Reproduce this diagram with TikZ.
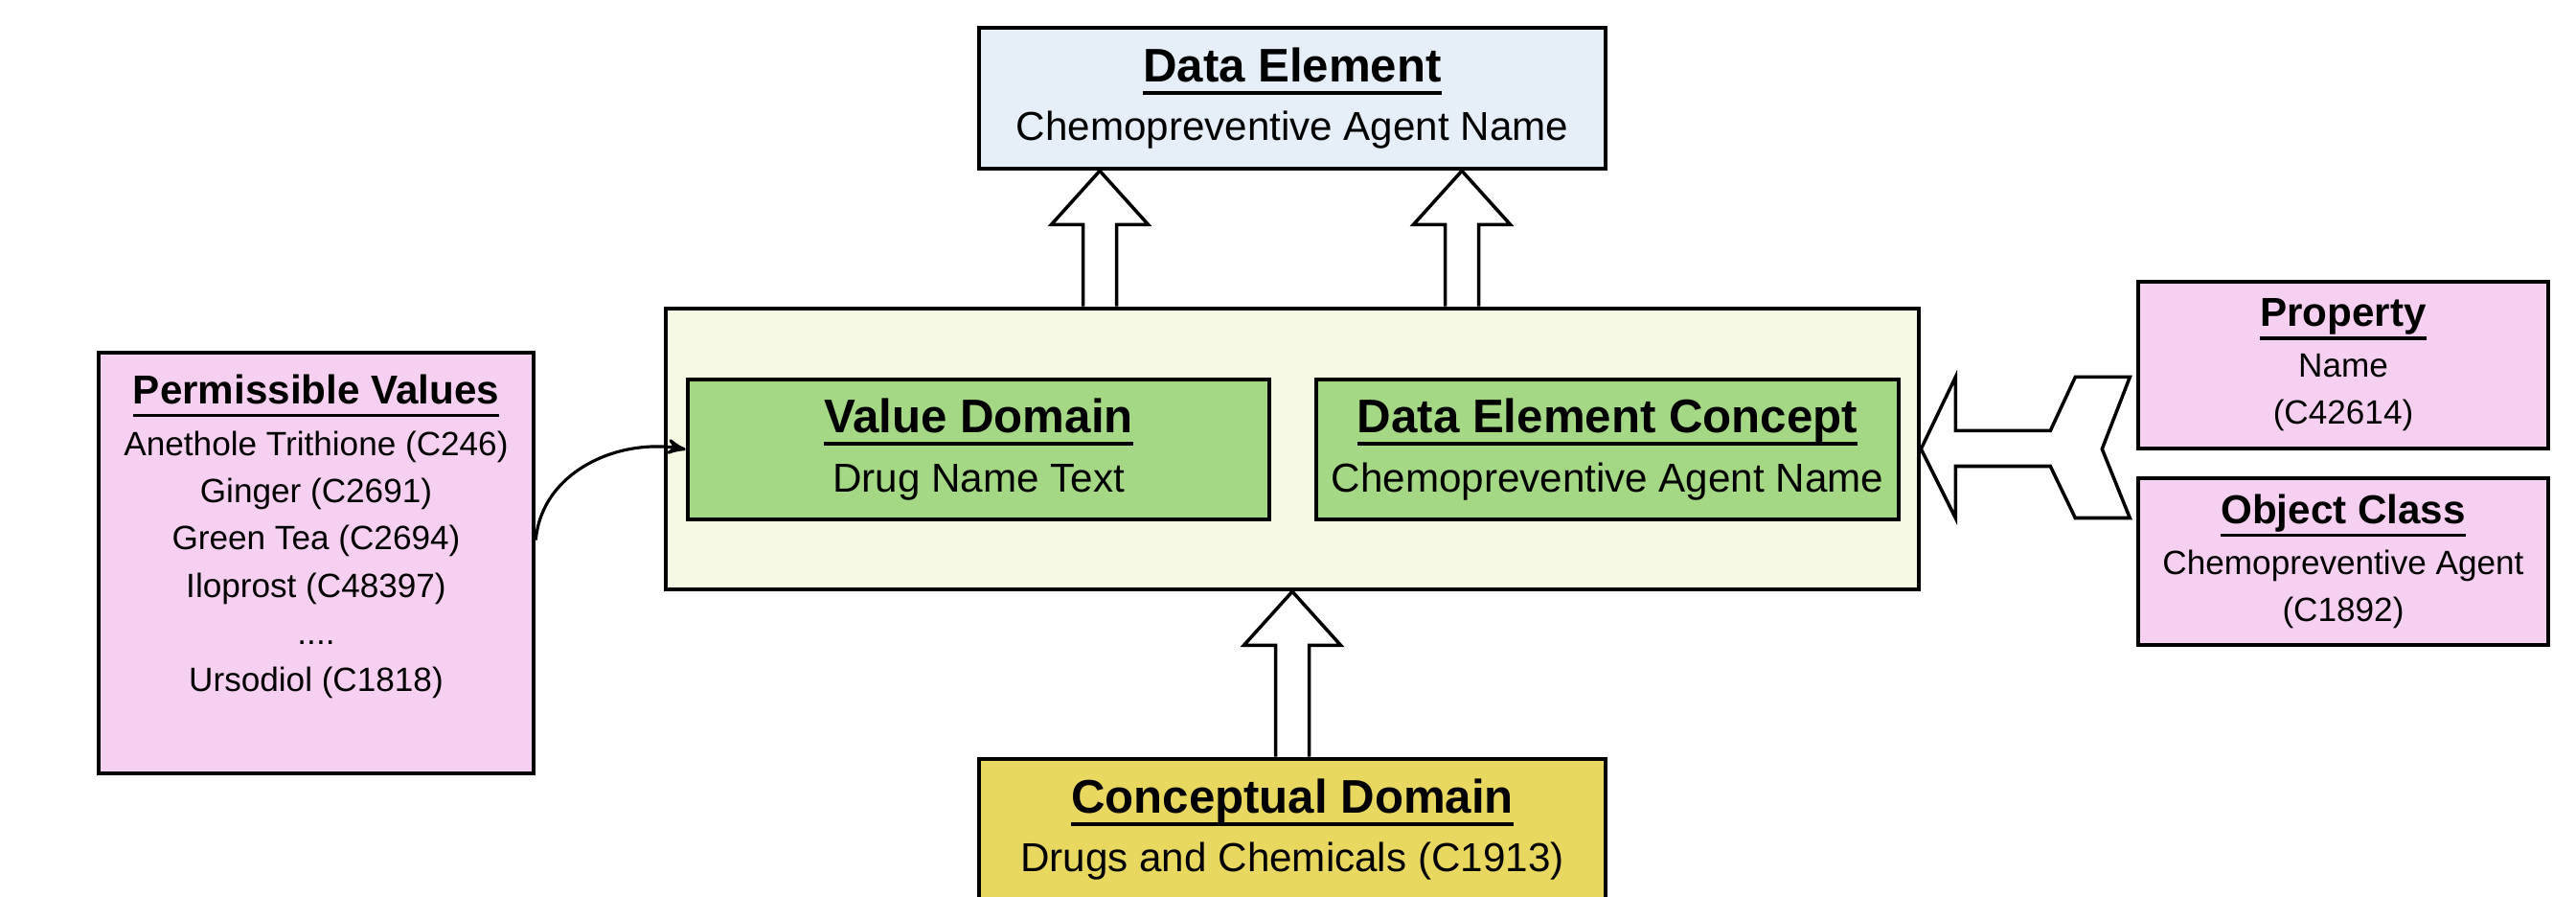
\documentclass[tikz,border=0pt]{standalone}
\usepackage{fontspec}
\setmainfont{Liberation Sans}
\usetikzlibrary{arrows,calc}

\definecolor{deblue}{RGB}{230,238,248}
\definecolor{wrapyellow}{RGB}{246,250,228}
\definecolor{vdgreen}{RGB}{165,216,133}
\definecolor{termpink}{RGB}{246,208,240}
\definecolor{cdyellow}{RGB}{232,216,96}

% bold title with a heavy underline
\newcommand{\TitleLine}[1]{\setbox0\hbox{\bfseries #1}\rlap{\rule[-3.9pt]{\wd0}{1.1pt}}\box0}
\newcommand{\BigTitle}[1]{{\fontsize{14}{17.6}\selectfont\TitleLine{#1}}}
\newcommand{\SmallTitle}[1]{{\fontsize{12}{14}\selectfont\TitleLine{#1}}}

% hollow up arrow: #1 tail, #2 tip
\newcommand{\UpArrow}[2]{%
	\draw[BlockArrow] ($(#1)+(-0.175,0)$) -- ($(#2)+(-0.175,-0.56)$) -- ($(#2)+(-0.505,-0.56)$)
		-- (#2) -- ($(#2)+(0.505,-0.56)$) -- ($(#2)+(0.175,-0.56)$) -- ($(#1)+(0.175,0)$);}

\begin{document}
\begin{tikzpicture}[
	MainBox/.style = {draw=black, line width=1.3pt, align=center, inner sep=0pt,
		font=\fontsize{12}{17.6}\selectfont},
	TermBox/.style = {draw=black, line width=1.3pt, align=center, inner sep=0pt,
		fill=termpink, minimum width=4.28cm, minimum height=1.74cm,
		font=\fontsize{10}{14}\selectfont},
	BlockArrow/.style = {draw=black, line width=1pt, fill=white, line join=miter},
	CurveArrow/.style = {draw=black, line width=0.9pt, ->, >=stealth'}]
	\useasboundingbox (0,0) rectangle (26.89,-9.36);

	\node[MainBox, fill=deblue, minimum width=6.54cm, minimum height=1.47cm] (de) at (13.49,-1.025)
		{\BigTitle{Data Element}\\ Chemopreventive Agent Name};
	\node[MainBox, fill=wrapyellow, minimum width=13.08cm, minimum height=2.93cm] (wrap) at (13.49,-4.685) {};
	\node[MainBox, fill=vdgreen, minimum width=6.07cm, minimum height=1.46cm] (vd) at (10.215,-4.69)
		{\BigTitle{Value Domain}\\ Drug Name Text};
	\node[MainBox, fill=vdgreen, minimum width=6.08cm, minimum height=1.46cm] (dec) at (16.78,-4.69)
		{\BigTitle{Data Element Concept}\\ Chemopreventive Agent Name};
	\node[MainBox, fill=cdyellow, minimum width=6.54cm, minimum height=1.47cm] (cd) at (13.49,-8.655)
		{\BigTitle{Conceptual Domain}\\ Drugs and Chemicals (C1913)};

	\node[TermBox, minimum width=4.54cm, minimum height=4.39cm] (pv) at (3.30,-5.875)
		{\SmallTitle{Permissible Values}\\[1.3pt] Anethole Trithione (C246)\\ Ginger (C2691)\\
		Green Tea (C2694)\\ Iloprost (C48397)\\ ....\\ Ursodiol (C1818)\\[0.13cm]\mbox{}};
	\node[TermBox] (prop) at (24.46,-3.81) {\SmallTitle{Property}\\[1pt] Name\\ (C42614)};
	\node[TermBox] (oc) at (24.46,-5.86) {\SmallTitle{Object Class}\\[1pt] Chemopreventive Agent\\ (C1892)};

	\coordinate (ax1) at (11.48,0);
	\coordinate (ax2) at (15.26,0);
	\coordinate (ax3) at (13.49,0);
	\UpArrow{ax1 |- wrap.north}{ax1 |- de.south}
	\UpArrow{ax2 |- wrap.north}{ax2 |- de.south}
	\UpArrow{ax3 |- cd.north}{ax3 |- wrap.south}

	% forked arrow from property and object class
	\draw[BlockArrow] (wrap.east) -- ++(0.36,0.75) -- ++(0,-0.56) -- ++(0.99,0) -- ++(0.26,0.56)
		-- ++(0.57,0) -- ++(-0.29,-0.75) -- ++(0.29,-0.72) -- ++(-0.57,0) -- ++(-0.26,0.54)
		-- ++(-0.99,0) -- ++(0,-0.54) -- cycle;

	\draw[CurveArrow] ([yshift=0.24cm]pv.east) to[out=85,in=170] (vd.west);
\end{tikzpicture}
\end{document}
